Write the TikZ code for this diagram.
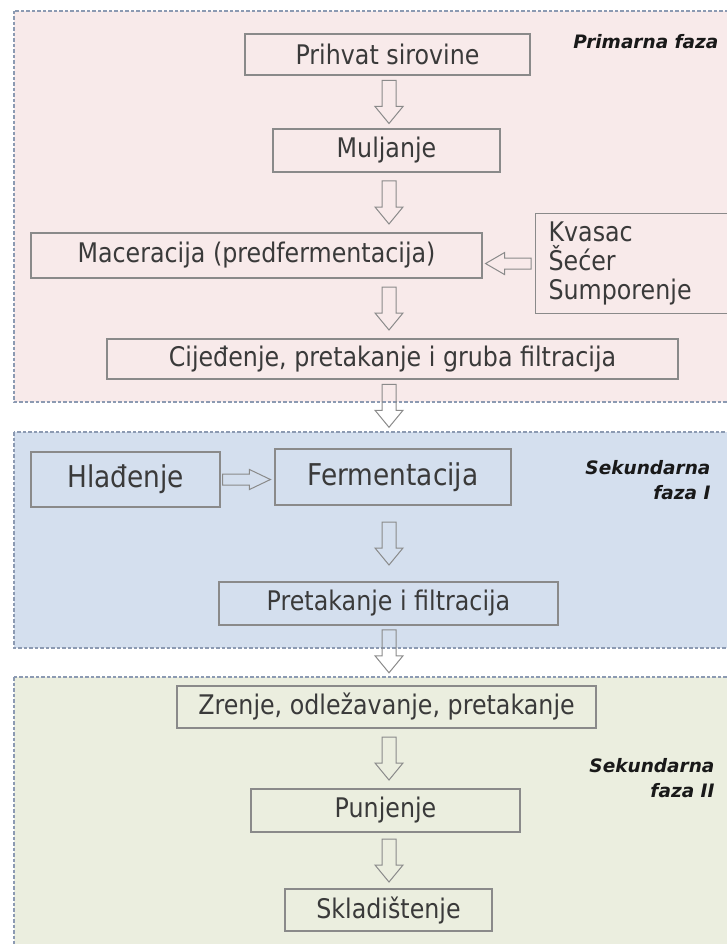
\documentclass[tikz,border=0pt]{standalone}
\usepackage{fontspec}
\setmainfont{DejaVu Sans}
\newfontfamily\boxfont{DejaVu Sans}[FakeStretch=0.88]
\usetikzlibrary{calc,positioning}

\definecolor{primfill}{HTML}{F8EAEA}
\definecolor{sekfill}{HTML}{D4DFEE}
\definecolor{zrefill}{HTML}{EBEEDF}
\definecolor{dashcol}{HTML}{8C9AB2}
\definecolor{boxline}{HTML}{8A8A8A}
\definecolor{boxtext}{HTML}{3A3A3A}

% hollow block arrow: start, tip, shaft half width, head half width, head length
\newcommand{\blockarrow}[5]{%
  \coordinate (aa) at (#1);
  \coordinate (ab) at (#2);
  \coordinate (ah) at ($(ab)!#5!(aa)$);
  \draw[hollow] ($(aa)!#3!90:(ab)$) -- ($(ah)!#3!-90:(aa)$) -- ($(ah)!#4!-90:(aa)$)
    -- (ab) -- ($(ah)!#4!90:(aa)$) -- ($(ah)!#3!90:(aa)$) -- ($(aa)!#3!-90:(ab)$) -- cycle;}
% vertical arrow of fixed length, centred between two anchors
\newcommand{\flowdown}[2]{%
  \coordinate (mid) at ($(col |- #1)!0.5!(col |- #2)$);
  \blockarrow{$(mid)+(0,-21.5)$}{$(mid)+(0,21.5)$}{7pt}{14pt}{17pt}}

\begin{document}
\begin{tikzpicture}[x=1pt, y=-1pt,
  box/.style={draw=boxline, line width=1.1pt, text=boxtext, inner sep=0pt,
    font=\boxfont\fontsize{27}{30}\selectfont},
  bigbox/.style={box, font=\boxfont\fontsize{30}{33}\selectfont},
  panel/.style={draw=dashcol, line width=1.2pt, dash pattern=on 3.5pt off 2pt},
  phase/.style={font=\fontsize{18.5}{25}\selectfont\bfseries\itshape, align=right,
    anchor=east, text=black!90},
  hollow/.style={draw=boxline, line width=1pt, line join=miter}]
\useasboundingbox (0,0) rectangle (726,944);

\coordinate (col) at (389,0);
\coordinate (prim-nw) at (14,11);
\coordinate (prim-se) at (728,402);
\coordinate (sek-nw) at (14,432);
\coordinate (sek-se) at (728,648);
\coordinate (zre-nw) at (14,677);
\coordinate (zre-se) at (728,960);

% faze
\draw[panel, fill=primfill] (prim-nw) rectangle (prim-se);
\draw[panel, fill=sekfill] (sek-nw) rectangle (sek-se);
\draw[panel, fill=zrefill] (zre-nw) rectangle (zre-se);

\node[phase] (primarna) at (722,42) {Primarna faza};
\node[phase] (sek1) at (714,480) {Sekundarna\\faza I};
\node[phase] (sek2) at (718,778) {Sekundarna\\faza II};

% primarna faza
\node[box, minimum width=285, minimum height=41] (prihvat) at (387.5,54.5) {Prihvat sirovine};
\node[box, minimum width=227, minimum height=43] (muljanje) at (386.5,150.5) {Muljanje};
\node[box, minimum width=451, minimum height=45] (maceracija) at (256.5,255.5) {Maceracija (predfermentacija)};
\node[box, anchor=north west, text width=169pt, minimum height=100, align=left,
  inner xsep=13pt, font=\boxfont\fontsize{27}{29}\selectfont] (dodaci) at (535,213) {Kvasac\\Šećer\\Sumporenje};
\node[box, minimum width=571, minimum height=40] (cijedjenje) at (392.5,359) {Cijeđenje, pretakanje i gruba filtracija};

% sekundarna faza I
\node[bigbox, minimum width=189, minimum height=55] (hladjenje) at (125.5,479.5) {Hlađenje};
\node[bigbox, minimum width=236, minimum height=56] (fermentacija) at (393,477) {Fermentacija};
\node[box, minimum width=339, minimum height=43] (pretakanje) at (388.5,603.5) {Pretakanje i filtracija};

% sekundarna faza II
\node[box, minimum width=419, minimum height=42] (zrenje) at (386.5,707) {Zrenje, odležavanje, pretakanje};
\node[box, minimum width=269, minimum height=43] (punjenje) at (385.5,810.5) {Punjenje};
\node[box, minimum width=207, minimum height=42] (skladistenje) at (388.5,910) {Skladištenje};

% strelice
\flowdown{prihvat.south}{muljanje.north}
\flowdown{muljanje.south}{maceracija.north}
\flowdown{maceracija.south}{cijedjenje.north}
\flowdown{cijedjenje.south}{sek-nw}
\flowdown{fermentacija.south}{pretakanje.north}
\flowdown{pretakanje.south}{zre-nw}
\flowdown{zrenje.south}{punjenje.north}
\flowdown{punjenje.south}{skladistenje.north}
\blockarrow{$(dodaci.west)+(-4,0)$}{$(maceracija.east |- dodaci.west)+(3,0)$}{5.5pt}{11pt}{19pt}
\blockarrow{$(hladjenje.east)+(2,0)$}{$(fermentacija.west |- hladjenje.east)+(-4,0)$}{5.5pt}{10pt}{21pt}
\end{tikzpicture}
\end{document}
